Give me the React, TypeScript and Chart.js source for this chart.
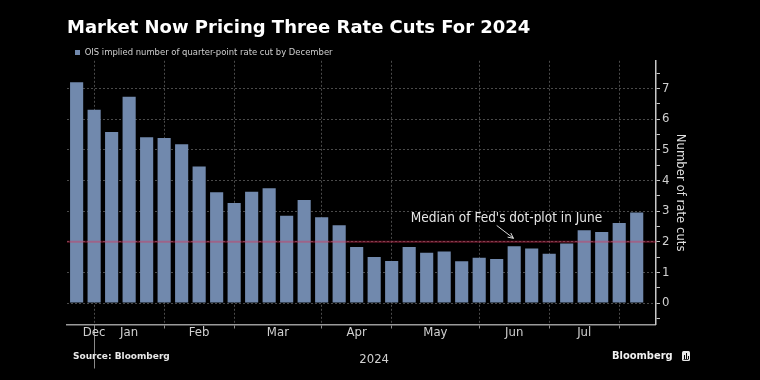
import React, { useEffect, useRef } from 'react';
import { Chart, registerables } from 'chart.js';

Chart.register(...registerables);

// ---------- data ----------
const TITLE = 'Market Now Pricing Three Rate Cuts For 2024';
const SERIES_NAME = 'OIS implied number of quarter-point rate cut by December';
const Y_TITLE = 'Number of rate cuts';
const SOURCE = 'Source: Bloomberg';
const BRAND = 'Bloomberg';

// weekly observations (index 0 = first week shown, late Dec 2023)
const VALUES = [
  7.2, 6.3, 5.58, 6.73, 5.41, 5.38, 5.18, 4.45, 3.61, 3.26, 3.63, 3.74, 2.85, 3.36, 2.8, 2.54,
  1.83, 1.5, 1.37, 1.83, 1.64, 1.68, 1.36, 1.48, 1.44, 1.85, 1.78, 1.61, 1.94, 2.37, 2.32, 2.61, 2.95,
];
const WEEKS = VALUES.map((_, i) => i);

// month boundaries (week index of first week in month) and label anchors
const MONTH_BOUNDARIES = [1, 5, 9, 14, 18, 23, 27, 31];
const MONTH_LABELS = ['Dec', 'Jan', 'Feb', 'Mar', 'Apr', 'May', 'Jun', 'Jul'];
const MONTH_LABEL_AT = [1, 3, 7, 11.5, 16, 20.5, 25, 29];
const YEAR_LABEL = '2024';
const YEAR_LABEL_AT = 17;
const YEAR_BOUNDARY = 1;

const X_MIN = -0.55;
const X_MAX = 33.1;
const Y_MIN = -0.7;
const Y_MAX = 7.9;
const Y_TICKS = [-0.5, 0, 0.5, 1, 1.5, 2, 2.5, 3, 3.5, 4, 4.5, 5, 5.5, 6, 6.5, 7, 7.5];

const FED_MEDIAN = 2;
const ANNOTATION = "Median of Fed's dot-plot in June";
const ANNOTATION_AT = { x: 24.56, y: 2.77 };
const ARROW_FROM = { x: 24.0, y: 2.53 };
const ARROW_TO = { x: 24.96, y: 2.11 };

// ---------- styles ----------
const COND = "'DejaVu Sans Condensed', 'DejaVu Sans', sans-serif";
const SANS = "'DejaVu Sans', sans-serif";
const BAR = '#7189ad';
const GRID = '#4a4a4a';
const TEXT = '#d0d0d0';

const X_TICKS = Array.from(new Set([...MONTH_BOUNDARIES, ...MONTH_LABEL_AT])).sort((a, b) => a - b);

const overlay = {
  id: 'overlay',
  afterDatasetsDraw(chart: any) {
    const { ctx, chartArea, scales } = chart;
    const x = scales.x;
    const y = scales.y;
    // Fed median line
    ctx.save();
    const yy = y.getPixelForValue(FED_MEDIAN);
    ctx.strokeStyle = 'rgba(219,48,88,0.42)';
    ctx.lineWidth = 2;
    ctx.beginPath();
    ctx.moveTo(chartArea.left, yy);
    ctx.lineTo(chartArea.right, yy);
    ctx.stroke();

    // annotation
    ctx.fillStyle = '#e6e6e6';
    ctx.font = `13.5px ${COND}`;
    ctx.textAlign = 'center';
    ctx.textBaseline = 'middle';
    ctx.fillText(ANNOTATION, x.getPixelForValue(ANNOTATION_AT.x), y.getPixelForValue(ANNOTATION_AT.y));

    const x1 = x.getPixelForValue(ARROW_FROM.x);
    const y1 = y.getPixelForValue(ARROW_FROM.y);
    const x2 = x.getPixelForValue(ARROW_TO.x);
    const y2 = y.getPixelForValue(ARROW_TO.y);
    ctx.strokeStyle = '#d8d8d8';
    ctx.lineWidth = 1;
    ctx.beginPath();
    ctx.moveTo(x1, y1);
    ctx.lineTo(x2, y2);
    const ang = Math.atan2(y2 - y1, x2 - x1);
    const h = 6;
    ctx.moveTo(x2, y2);
    ctx.lineTo(x2 - h * Math.cos(ang - 0.45), y2 - h * Math.sin(ang - 0.45));
    ctx.moveTo(x2, y2);
    ctx.lineTo(x2 - h * Math.cos(ang + 0.45), y2 - h * Math.sin(ang + 0.45));
    ctx.stroke();
    ctx.restore();
  },
  afterDraw(chart: any) {
    const { ctx, scales } = chart;
    const x = scales.x;
    ctx.save();
    // year separator tick
    const xb = x.getPixelForValue(YEAR_BOUNDARY);
    ctx.strokeStyle = '#8a8a8a';
    ctx.lineWidth = 1;
    ctx.beginPath();
    ctx.moveTo(Math.round(xb) + 0.5, x.top);
    ctx.lineTo(Math.round(xb) + 0.5, x.top + 44);
    ctx.stroke();

    // month labels (positioned through the x scale)
    ctx.fillStyle = TEXT;
    ctx.font = `13px ${COND}`;
    ctx.textAlign = 'center';
    ctx.textBaseline = 'middle';
    MONTH_LABELS.forEach((m, i) => {
      ctx.fillText(m, x.getPixelForValue(MONTH_LABEL_AT[i]), x.top + 8.3);
    });

    // year label
    ctx.fillText(YEAR_LABEL, x.getPixelForValue(YEAR_LABEL_AT), x.top + 35);

    // source
    ctx.fillStyle = '#e8e8e8';
    ctx.font = `bold 9px ${SANS}`;
    ctx.textAlign = 'left';
    ctx.fillText(SOURCE, 73, 357);

    // brand
    ctx.font = `bold 11px ${COND}`;
    ctx.fillStyle = '#f0f0f0';
    ctx.textAlign = 'left';
    ctx.fillText(BRAND, 612, 356.5);
    // brand icon
    ctx.fillStyle = '#e8e8e8';
    ctx.beginPath();
    const ix = 682, iy = 351, iw = 8, ih = 10;
    ctx.moveTo(ix + 1.5, iy);
    ctx.lineTo(ix + iw - 1.5, iy);
    ctx.quadraticCurveTo(ix + iw, iy, ix + iw, iy + 1.5);
    ctx.lineTo(ix + iw, iy + ih - 1.5);
    ctx.quadraticCurveTo(ix + iw, iy + ih, ix + iw - 1.5, iy + ih);
    ctx.lineTo(ix + 1.5, iy + ih);
    ctx.quadraticCurveTo(ix, iy + ih, ix, iy + ih - 1.5);
    ctx.lineTo(ix, iy + 1.5);
    ctx.quadraticCurveTo(ix, iy, ix + 1.5, iy);
    ctx.fill();
    ctx.fillStyle = '#000';
    ctx.fillRect(ix + 2, iy + 4, 1, 4);
    ctx.fillRect(ix + 4, iy + 2, 1, 6);
    ctx.fillRect(ix + 6, iy + 5, 1, 3);
    ctx.fillRect(ix + 1.5, iy + 8, 5, 0.8);
    ctx.restore();
  },
};

export default function App() {
  const ref = useRef<HTMLCanvasElement | null>(null);

  useEffect(() => {
    document.body.style.margin = '0';
    document.body.style.background = '#000';
    const canvas = ref.current;
    if (!canvas) return;
    const chart = new Chart(canvas, {
      type: 'bar',
      data: {
        datasets: [
          {
            label: SERIES_NAME,
            data: WEEKS.map((w, i) => ({ x: w, y: VALUES[i] })),
            backgroundColor: BAR,
            borderWidth: 0,
            barPercentage: 0.75,
            categoryPercentage: 1,
          },
        ],
      },
      options: {
        responsive: false,
        animation: false,
        devicePixelRatio: 1,
        layout: { padding: { left: 67, right: 65, top: 0, bottom: 43 } },
        plugins: {
          title: {
            display: true,
            text: TITLE,
            align: 'start',
            color: '#ffffff',
            font: { family: SANS, size: 18, weight: 'bold' },
            padding: { top: 17.5, bottom: 0.7 },
          },
          legend: {
            display: true,
            align: 'start',
            maxHeight: 21,
            labels: {
              boxWidth: 5,
              boxHeight: 5,
              padding: 8,
              color: TEXT,
              font: { family: COND, size: 9.4 },
            },
          },
          tooltip: { enabled: false },
        },
        scales: {
          x: {
            type: 'linear',
            min: X_MIN,
            max: X_MAX,
            offset: false,
            afterBuildTicks: (scale: any) => {
              scale.ticks = X_TICKS.map((v) => ({ value: v }));
            },
            ticks: {
              autoSkip: false,
              maxRotation: 0,
              padding: -5.5,
              color: 'rgba(0,0,0,0)',
              font: { family: COND, size: 13, lineHeight: 1.5 },
              callback: (v: any) => {
                const i = MONTH_LABEL_AT.indexOf(Number(v));
                return i >= 0 ? MONTH_LABELS[i] : '';
              },
            },
            grid: {
              offset: false,
              color: (c: any) => (MONTH_BOUNDARIES.includes(c.tick?.value) ? GRID : 'rgba(0,0,0,0)'),
              tickColor: (c: any) => (MONTH_BOUNDARIES.includes(c.tick?.value) ? '#8a8a8a' : 'rgba(0,0,0,0)'),
              tickLength: 4,
              lineWidth: 1,
            },
            border: { display: true, color: '#9a9a9a', width: 1.5, dash: [2, 2] },
          },
          y: {
            type: 'linear',
            position: 'right',
            min: Y_MIN,
            max: Y_MAX,
            afterBuildTicks: (scale: any) => {
              scale.ticks = Y_TICKS.map((v) => ({ value: v }));
            },
            ticks: {
              autoSkip: false,
              padding: 2,
              color: TEXT,
              font: { family: COND, size: 13 },
              callback: (v: any) => (Number.isInteger(Number(v)) ? String(v) : ''),
            },
            grid: {
              color: (c: any) => (Number.isInteger(c.tick?.value) ? GRID : 'rgba(0,0,0,0)'),
              tickColor: '#c8c8c8',
              tickLength: 4,
              lineWidth: 1,
            },
            border: { display: true, color: '#c8c8c8', width: 1.5, dash: [2, 2] },
            title: {
              display: true,
              text: Y_TITLE,
              color: '#e0e0e0',
              font: { family: COND, size: 13 },
              padding: { top: 7.2, bottom: 0.8 },
            },
          },
        },
      },
      plugins: [overlay],
    });
    return () => chart.destroy();
  }, []);

  return (
    <div style={{ width: 760, height: 380, background: '#000' }}>
      <canvas ref={ref} width={760} height={380} style={{ display: 'block' }} />
    </div>
  );
}
